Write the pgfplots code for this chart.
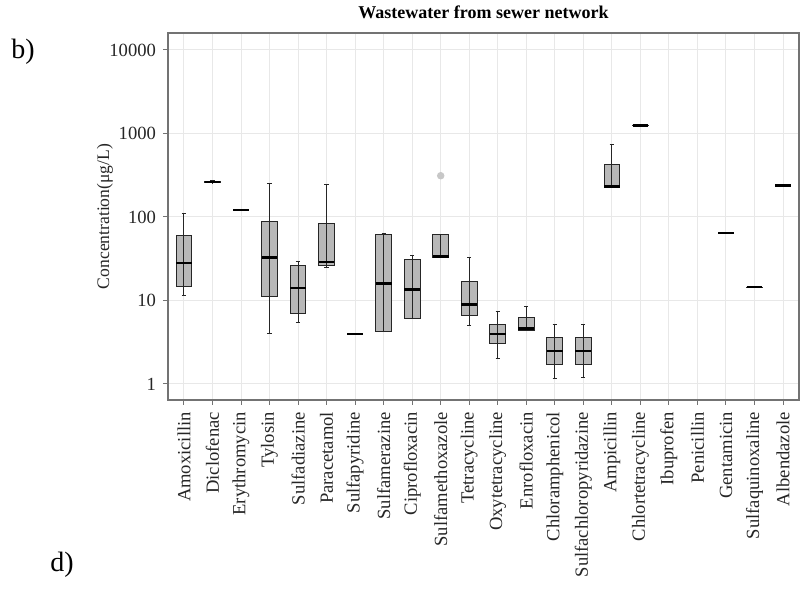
\documentclass[border=0pt]{standalone}
\usepackage{pgfplots}
\pgfplotsset{compat=1.18}
\usepgfplotslibrary{statistics}
\usepackage{fontspec}
\setmainfont{Liberation Serif}
\definecolor{boxfill}{gray}{0.72}
\newcommand{\bx}[6]{\addplot[bxs, boxplot prepared={draw position=#1, lower whisker=#2, lower quartile=#3, median=#4, upper quartile=#5, upper whisker=#6}] coordinates {};}
\begin{document}
\begin{tikzpicture}
\path[use as bounding box] (0,0) rectangle (402pt,294.5pt);
\node[font=\fontsize{14}{16}\selectfont] at (11.5pt,268.5pt) {b)};
\node[font=\fontsize{14}{16}\selectfont] at (31pt,12pt) {d)};
\begin{axis}[
  at={(84pt,94.5pt)}, anchor=south west,
  width=315.5pt, height=183.5pt, scale only axis,
  ymode=log, ymin=0.643, ymax=15980,
  xmin=0.44, xmax=22.56,
  xtick={1,...,22},
  xticklabels={Amoxicillin,Diclofenac,Erythromycin,Tylosin,Sulfadiazine,Paracetamol,Sulfapyridine,Sulfamerazine,Ciprofloxacin,Sulfamethoxazole,Tetracycline,Oxytetracycline,Enrofloxacin,Chloramphenicol,Sulfachloropyridazine,Ampicillin,Chlortetracycline,Ibuprofen,Penicillin,Gentamicin,Sulfaquinoxaline,Albendazole},
  x tick label style={rotate=90, anchor=east, font=\fontsize{9.3}{11}\selectfont, text=black!85},
  ytick={1,10,100,1000,10000},
  yticklabels={1,10,100,1000,10000},
  y tick label style={font=\fontsize{9.3}{11}\selectfont, text=black!85},
  yminorticks=false,
  xtick pos=left, ytick pos=left,
  tick align=outside, major tick length=2.5pt,
  tick style={black!55, line width=0.5pt},
  axis line style={black!55, line width=0.6pt},
  grid=major, major grid style={black!9, line width=0.5pt},
  ylabel={Concentration(μg/L)},
  ylabel style={at={(axis description cs:-0.0998,0.5)}, anchor=center, font=\fontsize{8.8}{10}\selectfont, text=black!85},
  every axis title shift=0pt,
  title={\textbf{Wastewater from sewer network}},
  title style={at={(axis description cs:0.5,1.0572)}, anchor=center, font=\fontsize{9}{11}\selectfont},
  boxplot/box extend=0.55,
  boxplot/whisker extend=0.15,
  boxplot/draw direction=y,
  bxs/.style={draw=black!85, fill=boxfill, line width=0.5pt, solid,
    boxplot/every median/.style={line width=1.2pt, black},
    boxplot/draw/median/.code={%
      \draw[black!85, line width=0.5pt] (boxplot box cs:\pgfplotsboxplotvalue{lower whisker},0.5) -- (boxplot box cs:\pgfplotsboxplotvalue{upper whisker},0.5);
      \draw[/pgfplots/boxplot/every median/.try] (boxplot box cs:\pgfplotsboxplotvalue{median},0) -- (boxplot box cs:\pgfplotsboxplotvalue{median},1);
    }},
]
\bx{1}{11.6}{14.6}{28}{60}{110}
\bx{2}{256}{258}{262}{268}{272}
\bx{3}{120}{121}{122}{123}{124}
\bx{4}{4.0}{11.3}{32.6}{89.5}{252}
\bx{5}{5.5}{6.9}{14}{26}{29.7}
\bx{6}{25}{26.6}{29}{84}{248}
\bx{7}{3.97}{3.99}{4.0}{4.02}{4.04}
\bx{8}{4.2}{4.3}{16}{61}{64}
\bx{9}{6.1}{6.1}{13.6}{31}{34.4}
\addplot[bxs, boxplot prepared={draw position=10, lower whisker=32.6, lower quartile=32.6, median=33.5, upper quartile=62, upper whisker=62}, mark=*, mark size=1.6pt, mark options={draw=black!22, fill=black!22}] table[row sep=\\, y index=0] {data\\ 312\\};
\bx{11}{5.0}{6.7}{9.0}{16.8}{32.6}
\bx{12}{2.03}{3.07}{4.0}{5.1}{7.3}
\bx{13}{4.4}{4.4}{4.6}{6.3}{8.4}
\bx{14}{1.17}{1.72}{2.5}{3.6}{5.2}
\bx{15}{1.2}{1.72}{2.5}{3.6}{5.2}
\bx{16}{228}{228}{231}{420}{742}
\bx{17}{1235}{1238}{1240}{1243}{1246}
\bx{20}{63.5}{63.8}{64}{64.2}{64.5}
\bx{21}{14.3}{14.35}{14.4}{14.45}{14.5}
\bx{22}{237}{238}{239}{240}{241}
\end{axis}
\end{tikzpicture}
\end{document}
